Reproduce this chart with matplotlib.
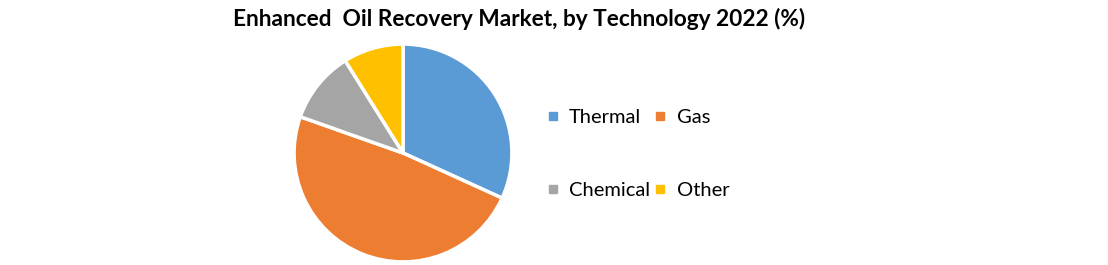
import matplotlib.pyplot as plt
from matplotlib.lines import Line2D

labels = ["Thermal", "Gas", "Chemical", "Other"]
shares = [31.8, 48.6, 10.7, 8.9]
colors = ["#5B9BD5", "#ED7D31", "#A5A5A5", "#FFC000"]

plt.rcParams['font.family'] = ['Lato', 'DejaVu Sans']

fig = plt.figure(figsize=(11.08, 2.65), dpi=100)
ax = fig.add_axes([293/1108, 2/265, 220/1108, 220/265])
ax.pie(shares, colors=colors, startangle=90, counterclock=False,
       wedgeprops=dict(edgecolor="white", linewidth=2.5))
ax.set_xlim(-1.01, 1.01)
ax.set_ylim(-1.01, 1.01)
ax.set_aspect("equal")

fig.text(519/1108, 1 - 19/265, "Enhanced  Oil Recovery Market, by Technology 2022 (%)",
         ha="center", va="center", fontsize=16.3, fontweight="bold")

handles = [Line2D([], [], marker="s", linestyle="none", markersize=6,
                  markerfacecolor=c, markeredgecolor=c) for c in colors]
# legend fills column by column, so reorder to read row by row
order = [0, 2, 1, 3]
fig.legend([handles[i] for i in order], [labels[i] for i in order],
           ncol=2, frameon=False, fontsize=14.5,
           loc="upper left", bbox_to_anchor=(537/1108, 1 - 99/265),
           labelspacing=2.75, columnspacing=0.2, handlelength=0.6,
           handletextpad=0.5, borderpad=0)

fig.savefig("out.png", dpi=100)
